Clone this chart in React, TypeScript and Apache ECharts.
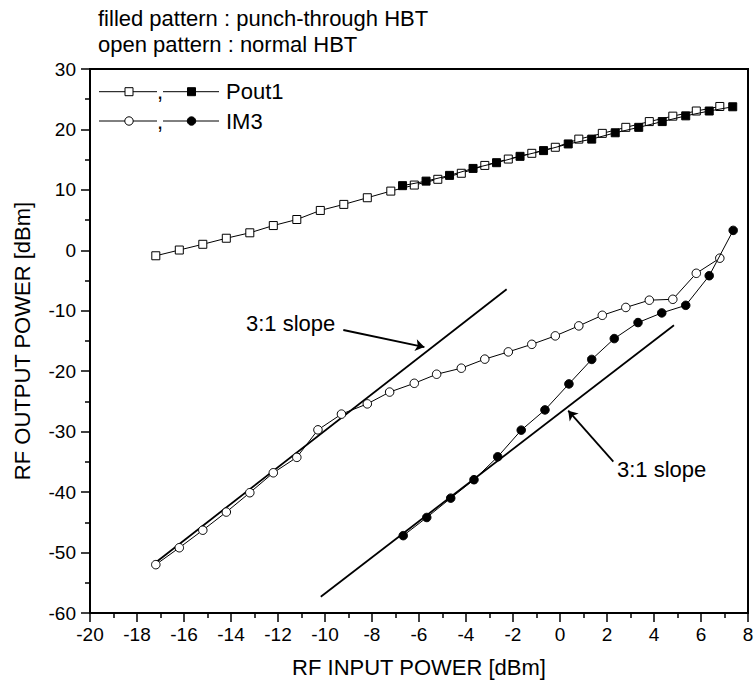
import React, { useEffect, useRef } from "react";
import * as echarts from "echarts";

// ---- data ----
const poutNormalX = [-17.2, -16.2, -15.2, -14.2, -13.2, -12.2, -11.2, -10.2, -9.2, -8.2, -7.2, -6.2, -5.2, -4.2, -3.2, -2.2, -1.2, -0.2, 0.8, 1.8, 2.8, 3.8, 4.8, 5.8, 6.8];
const poutNormalY = [-0.9, 0.05, 1.0, 2.0, 2.9, 4.1, 5.1, 6.6, 7.6, 8.7, 9.8, 10.8, 11.75, 12.75, 14.05, 15.1, 16.05, 17.05, 18.4, 19.35, 20.35, 21.3, 22.2, 23.05, 23.8];

const poutPTX = [-6.7, -5.7, -4.7, -3.7, -2.7, -1.7, -0.7, 0.35, 1.35, 2.35, 3.35, 4.35, 5.35, 6.35, 7.35];
const poutPTY = [10.7, 11.45, 12.4, 13.55, 14.5, 15.55, 16.5, 17.6, 18.4, 19.45, 20.35, 21.3, 22.25, 23.05, 23.75];

const im3NormalX = [-17.2, -16.2, -15.2, -14.2, -13.2, -12.2, -11.2, -10.3, -9.3, -8.2, -7.25, -6.2, -5.25, -4.2, -3.2, -2.2, -1.2, -0.2, 0.8, 1.8, 2.8, 3.8, 4.8, 5.8, 6.8];
const im3NormalY = [-52.0, -49.2, -46.3, -43.3, -40.1, -36.8, -34.25, -29.7, -27.1, -25.4, -23.45, -22.0, -20.5, -19.5, -18.0, -16.8, -15.55, -14.15, -12.5, -10.75, -9.45, -8.25, -8.1, -3.8, -1.3];

const im3PTX = [-6.67, -5.67, -4.65, -3.66, -2.65, -1.65, -0.64, 0.38, 1.35, 2.31, 3.32, 4.33, 5.35, 6.35, 7.37];
const im3PTY = [-47.2, -44.2, -41.0, -37.95, -34.15, -29.75, -26.4, -22.1, -18.05, -14.6, -11.95, -10.35, -9.1, -4.2, 3.3];

// 3:1 slope reference lines
const slope1X = [-17.26, -2.27];
const slope1Y = [-51.8, -6.45];
const slope2X = [-10.18, 4.85];
const slope2Y = [-57.3, -12.4];

// arrows (tail -> head) in data units
const arrow1 = [[-9.22, -13.18], [-5.77, -16.0]];
const arrow2 = [[2.27, -34.97], [0.35, -26.53]];

const xMin = -20, xMax = 8, xStep = 2;
const yMin = -60, yMax = 30, yStep = 10;

const topTexts = ["filled pattern : punch-through HBT", "open pattern : normal HBT"];
const legendNames = ["Pout1", "IM3"];
const slopeLabel = "3:1 slope";
const xTitle = "RF INPUT POWER [dBm]";
const yTitle = "RF OUTPUT POWER [dBm]";

const FONT = "'Liberation Sans', Arial, sans-serif";

const zip = (xs: number[], ys: number[]) => xs.map((x, i) => [x, ys[i]]);

export default function App() {
  const ref = useRef<HTMLDivElement>(null);

  useEffect(() => {
    document.body.style.margin = "0";
    if (!ref.current) return;
    const chart = echarts.init(ref.current, undefined, { renderer: "svg" });

    const openStyle = { color: "#fff", borderColor: "#000", borderWidth: 1 };
    const fillStyle = { color: "#000", borderColor: "#000", borderWidth: 1 };
    const lineStyle = { color: "#000", width: 1 };

    const axisCommon = {
      type: "value" as const,
      splitLine: { show: false },
      axisLine: { onZero: false, lineStyle: { color: "#000", width: 2 } },
      axisTick: { show: true, inside: false, length: 9, lineStyle: { color: "#000", width: 1.5 } },
      minorTick: { show: true, splitNumber: 2, length: 5, lineStyle: { color: "#000", width: 1.5 } },
    };

    const legendRow = (y: number, sym: "rect" | "circle", name: string) => {
      const mk = (cx: number, fill: string) =>
        sym === "rect"
          ? { type: "rect", shape: { x: cx - 4, y: y - 4, width: 8, height: 8 }, style: { fill, stroke: "#000", lineWidth: 1 }, z: 10 }
          : { type: "circle", shape: { cx, cy: y, r: 4.2 }, style: { fill, stroke: "#000", lineWidth: 1 }, z: 10 };
      return [
        { type: "line", shape: { x1: 99, y1: y, x2: 157, y2: y }, style: { stroke: "#000", lineWidth: 1 }, z: 9 },
        mk(129, "#fff"),
        { type: "text", x: 160, y: y, style: { text: ",", font: `22px ${FONT}`, fill: "#000", align: "center", verticalAlign: "middle" }, z: 10 },
        { type: "line", shape: { x1: 163, y1: y, x2: 219, y2: y }, style: { stroke: "#000", lineWidth: 1 }, z: 9 },
        mk(191.5, "#000"),
        { type: "text", x: 226, y: y, style: { text: name, font: `22px ${FONT}`, fill: "#000", align: "left", verticalAlign: "middle" }, z: 10 },
      ];
    };

    chart.setOption({
      animation: false,
      backgroundColor: "#fff",
      grid: {
        left: 90, right: 7, top: 69, bottom: 76,
        show: true, borderColor: "#000", borderWidth: 2, backgroundColor: "transparent",
        outerBoundsMode: "none",
      },
      xAxis: {
        ...axisCommon,
        min: xMin, max: xMax, interval: xStep,
        axisLabel: { fontSize: 19, color: "#000", margin: 12, fontFamily: FONT },
      },
      yAxis: {
        ...axisCommon,
        min: yMin, max: yMax, interval: yStep,
        axisLabel: { fontSize: 19, color: "#000", margin: 14, fontFamily: FONT },
      },
      series: [
        {
          type: "line", data: zip(slope1X, slope1Y), symbol: "none",
          lineStyle: { color: "#000", width: 1.8 }, z: 2, silent: true,
        },
        {
          type: "line", data: zip(slope2X, slope2Y), symbol: "none",
          lineStyle: { color: "#000", width: 1.8 }, z: 2, silent: true,
        },
        {
          name: "Pout1 normal", type: "line", data: zip(poutNormalX, poutNormalY),
          symbol: "rect", symbolSize: 8, lineStyle, itemStyle: openStyle, z: 3,
        },
        {
          name: "Pout1 punch-through", type: "line", data: zip(poutPTX, poutPTY),
          symbol: "rect", symbolSize: 8, lineStyle, itemStyle: fillStyle, z: 4,
        },
        {
          name: "IM3 normal", type: "line", data: zip(im3NormalX, im3NormalY),
          symbol: "circle", symbolSize: 8.5, lineStyle, itemStyle: openStyle, z: 3,
        },
        {
          name: "IM3 punch-through", type: "line", data: zip(im3PTX, im3PTY),
          symbol: "circle", symbolSize: 8.5, lineStyle, itemStyle: fillStyle, z: 4,
        },
        {
          type: "lines", coordinateSystem: "cartesian2d",
          data: [{ coords: arrow1 }, { coords: arrow2 }],
          symbol: ["none", "arrow"], symbolSize: 9,
          lineStyle: { color: "#000", width: 1.8, opacity: 1, curveness: 0 },
          z: 5, silent: true,
        },
      ],
      graphic: [
        { type: "text", x: 98, y: 18, style: { text: topTexts[0], font: `22px ${FONT}`, fill: "#000", verticalAlign: "middle" } },
        { type: "text", x: 98, y: 44, style: { text: topTexts[1], font: `22px ${FONT}`, fill: "#000", verticalAlign: "middle" } },
        ...legendRow(91.7, "rect", legendNames[0]),
        ...legendRow(121, "circle", legendNames[1]),
        { type: "text", x: 246, y: 323, style: { text: slopeLabel, font: `22px ${FONT}`, fill: "#000", verticalAlign: "middle" } },
        { type: "text", x: 617, y: 469, style: { text: slopeLabel, font: `22px ${FONT}`, fill: "#000", verticalAlign: "middle" } },
        { type: "text", x: 419, y: 667, style: { text: xTitle, font: `22px ${FONT}`, fill: "#000", align: "center", verticalAlign: "middle" } },
        {
          type: "text", x: 22, y: 341, rotation: Math.PI / 2,
          style: { text: yTitle, font: `22px ${FONT}`, fill: "#000", align: "center", verticalAlign: "middle" },
        },
      ],
    });

    return () => chart.dispose();
  }, []);

  return <div ref={ref} style={{ width: 755, height: 689 }} />;
}
